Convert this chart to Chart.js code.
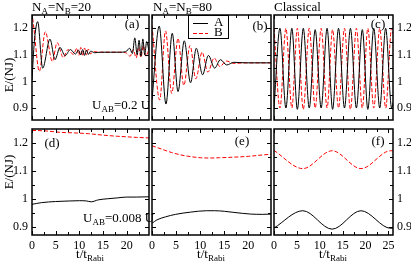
<!DOCTYPE html>
<html lang="en">
<head>
    <meta charset="UTF-8">
    <title>Energy of A and B</title>
    <script src="https://cdn.jsdelivr.net/npm/chart.js"></script>
    <style>
        body { margin: 0; background: #fff; }
        #wrap { position: relative; width: 411px; height: 264px; overflow: hidden; font-family: "Liberation Serif", serif; color: #000; }
        canvas { position: absolute; left: 0; top: 0; }
        .lbl { position: absolute; font-size: 13px; line-height: 13px; white-space: nowrap; }
        .lbl sub { font-size: 9px; vertical-align: -3px; line-height: 0; }
        .c { transform: translate(-50%, -50%); }
        .l { transform: translate(0, -50%); }
        .rot { transform: translate(-50%, -50%) rotate(-90deg); }
    </style>
</head>
<body>
<div id="wrap">
    <canvas id="pa" width="411" height="264"></canvas>
    <canvas id="pb" width="411" height="264"></canvas>
    <canvas id="pc" width="411" height="264"></canvas>
    <canvas id="pd" width="411" height="264"></canvas>
    <canvas id="pe" width="411" height="264"></canvas>
    <canvas id="pf" width="411" height="264"></canvas>

    <div class="lbl l" style="left:32px; top:6px;">N<sub>A</sub>=N<sub>B</sub>=20</div>
    <div class="lbl l" style="left:153px; top:6px;">N<sub>A</sub>=N<sub>B</sub>=80</div>
    <div class="lbl l" style="left:274px; top:6px;">Classical</div>

    <div class="lbl c" style="left:132px; top:23px;">(a)</div>
    <div class="lbl c" style="left:260px; top:25px;">(b)</div>
    <div class="lbl c" style="left:378px; top:23px;">(c)</div>
    <div class="lbl c" style="left:52px; top:142px;">(d)</div>
    <div class="lbl c" style="left:242px; top:140px;">(e)</div>
    <div class="lbl c" style="left:378px; top:140px;">(f)</div>

    <div class="lbl l" style="left:92px; top:104px;">U<sub>AB</sub>=0.2 U</div>
    <div class="lbl l" style="left:83px; top:217px;">U<sub>AB</sub>=0.008 U</div>

    <div class="lbl rot" style="left:8px; top:75px;">E/(NJ)</div>
    <div class="lbl rot" style="left:8px; top:172px;">E/(NJ)</div>

    <div class="lbl c" style="left:90px; top:253px;">t/t<sub>Rabi</sub></div>
    <div class="lbl c" style="left:211px; top:253px;">t/t<sub>Rabi</sub></div>
    <div class="lbl c" style="left:333px; top:253px;">t/t<sub>Rabi</sub></div>
</div>

<script>
    // tick marks and the ones that carry a label
    const xTickMarks = [0, 2.5, 5, 7.5, 10, 12.5, 15, 17.5, 20, 22.5, 25];
    const xTicks = [0, 5, 10, 15, 20, 25];
    const yTickMarks = [0.9, 0.95, 1, 1.05, 1.1, 1.15, 1.2];
    const yTicks = [0.9, 1, 1.1, 1.2];

    // (a) N_A = N_B = 20, U_AB = 0.2 U
    const aTimeA = [0, 0.5, 1.2, 2.25, 3.8, 4.85, 5.9, 7.0, 8.1, 9.2, 9.8, 10.3, 10.7, 11.1, 11.5, 11.9, 12.4, 13.2, 14.5, 16.5, 18.5, 19.8, 20.6, 21.2, 21.7, 22.2, 22.6, 23.0, 23.4, 23.8, 24.2, 24.7];
    const aEnergyA = [1.005, 1.15, 1.225, 1.05, 1.159, 1.082, 1.128, 1.097, 1.12, 1.103, 1.118, 1.1, 1.12, 1.098, 1.118, 1.102, 1.114, 1.108, 1.11, 1.11, 1.11, 1.112, 1.125, 1.105, 1.164, 1.1, 1.155, 1.095, 1.16, 1.1, 1.15, 1.115];
    const aTimeB = [0, 0.4, 1.55, 2.8, 4.3, 5.3, 6.6, 7.6, 8.7, 9.5, 9.9, 10.3, 10.7, 11.1, 11.5, 11.9, 12.3, 13.0, 14.5, 16.5, 18.5, 19.8, 20.7, 21.4, 22.0, 22.5, 23.0, 23.5, 24.0, 24.7];
    const aEnergyB = [1.26, 1.2, 1.038, 1.187, 1.075, 1.146, 1.09, 1.12, 1.102, 1.125, 1.098, 1.128, 1.096, 1.126, 1.1, 1.122, 1.104, 1.112, 1.11, 1.11, 1.11, 1.108, 1.095, 1.12, 1.088, 1.13, 1.09, 1.135, 1.095, 1.12];

    // (b) N_A = N_B = 80
    const bTimeA = [0, 1.5, 2.9, 4.2, 5.4, 6.7, 8.0, 9.2, 10.5, 11.7, 13.0, 14.2, 15.5, 17.0, 19.5, 22, 24.7];
    const bEnergyA = [0.93, 1.208, 0.915, 1.181, 0.962, 1.153, 0.995, 1.125, 1.025, 1.098, 1.05, 1.082, 1.062, 1.072, 1.07, 1.07, 1.07];
    const bTimeB = [0, 1.6, 2.8, 4.1, 5.4, 6.6, 7.9, 9.1, 10.4, 11.6, 12.9, 14.1, 15.4, 17.0, 19.5, 22, 24.7];
    const bEnergyB = [1.21, 0.93, 1.19, 0.955, 1.162, 0.985, 1.135, 1.01, 1.11, 1.035, 1.088, 1.056, 1.077, 1.068, 1.07, 1.07, 1.07];

    // (c) classical
    const cTime = [0, 1.3, 2.6, 3.9, 5.1, 6.4, 7.7, 9.0, 10.3, 11.6, 12.8, 14.1, 15.4, 16.7, 18.0, 19.3, 20.5, 21.8, 23.1, 24.4, 25.7, 26];
    const cEnergyA = [0.9, 1.2, 0.9, 1.2, 0.895, 1.2, 0.9, 1.195, 0.9, 1.2, 0.895, 1.2, 0.9, 1.2, 0.9, 1.195, 0.895, 1.2, 0.9, 1.2, 0.9, 0.92];
    const cEnergyB = [1.2, 0.9, 1.2, 0.9, 1.2, 0.895, 1.2, 0.9, 1.2, 0.9, 1.195, 0.9, 1.2, 0.895, 1.2, 0.9, 1.2, 0.9, 1.2, 0.9, 1.2, 1.18];

    // (d) N = 20, U_AB = 0.008 U
    const dTimeA = [0, 2, 5, 8, 10, 11.5, 12.5, 14, 16, 18, 20, 22, 24.7];
    const dEnergyA = [0.98, 0.986, 0.99, 0.992, 0.993, 0.992, 0.989, 0.996, 1.0, 1.003, 1.006, 1.006, 1.007];
    const dTimeB = [0, 3, 6, 9, 12, 15, 18, 20, 22, 24.7];
    const dEnergyB = [1.245, 1.243, 1.238, 1.236, 1.233, 1.228, 1.224, 1.222, 1.22, 1.218];

    // (e) N = 80
    const eTimeA = [0, 1, 2.8, 4.9, 8, 11.3, 13, 15, 17, 20.5, 23, 25];
    const eEnergyA = [0.912, 0.924, 0.935, 0.944, 0.952, 0.957, 0.957, 0.955, 0.951, 0.945, 0.944, 0.945];
    const eTimeB = [0, 2, 4, 6, 8, 10, 12, 14, 17, 20, 23, 25];
    const eEnergyB = [1.19, 1.178, 1.166, 1.157, 1.151, 1.147, 1.146, 1.147, 1.149, 1.152, 1.157, 1.16];

    // (f) classical
    const fTime = [0, 6.3, 12.7, 19.0, 25.5, 26];
    const fEnergyA = [0.895, 0.957, 0.891, 0.957, 0.894, 0.895];
    const fEnergyB = [1.173, 1.108, 1.172, 1.108, 1.172, 1.172];

    const W = 411, H = 264;
    const tickFont = { family: 'Liberation Serif', size: 12 };

    function near(v, step) {
        const r = v / step;
        return Math.abs(r - Math.round(r)) < 1e-6;
    }

    function points(ts, vs) {
        return ts.map((t, i) => ({ x: t, y: vs[i] }));
    }

    // frame plus small ticks pointing inwards on all four sides
    const innerTicks = {
        id: 'innerTicks',
        afterDraw(chart) {
            const { ctx, chartArea: a } = chart;
            const xs = chart.scales.x, ys = chart.scales.y;
            ctx.save();
            ctx.strokeStyle = '#000';
            ctx.lineWidth = 1;
            ctx.beginPath();
            xs.ticks.forEach(t => {
                const len = near(t.value, 5) ? 4 : 3;
                const x = Math.round(xs.getPixelForValue(t.value)) + 0.5;
                ctx.moveTo(x, a.bottom); ctx.lineTo(x, a.bottom - len);
                ctx.moveTo(x, a.top); ctx.lineTo(x, a.top + len);
            });
            ys.ticks.forEach(t => {
                const len = near(t.value, 0.1) ? 4 : 3;
                const y = Math.round(ys.getPixelForValue(t.value)) + 0.5;
                ctx.moveTo(a.left, y); ctx.lineTo(a.left + len, y);
                ctx.moveTo(a.right, y); ctx.lineTo(a.right - len, y);
            });
            ctx.stroke();
            ctx.lineWidth = 1.5;
            ctx.strokeRect(a.left, a.top, a.right - a.left, a.bottom - a.top);
            ctx.restore();
        }
    };

    // boxed legend inside panel (b)
    const boxLegend = {
        id: 'boxLegend',
        afterDraw(chart, args, opts) {
            if (!opts.show) return;
            const { ctx } = chart;
            const { x, y, w, h } = opts;
            ctx.save();
            ctx.fillStyle = '#fff';
            ctx.fillRect(x, y, w, h);
            ctx.strokeStyle = '#000';
            ctx.lineWidth = 1;
            ctx.strokeRect(x + 0.5, y + 0.5, w, h);
            ctx.font = '13px "Liberation Serif"';
            ctx.textBaseline = 'middle';
            chart.data.datasets.forEach((ds, i) => {
                const ly = y + 8 + i * 10;
                ctx.strokeStyle = ds.borderColor;
                ctx.setLineDash(ds.borderDash || []);
                ctx.beginPath();
                ctx.moveTo(x + 5, ly + 0.5);
                ctx.lineTo(x + 20, ly + 0.5);
                ctx.stroke();
                ctx.setLineDash([]);
                ctx.fillStyle = '#000';
                ctx.fillText(ds.label, x + 26, ly);
            });
            ctx.restore();
        }
    };

    const panels = [
        { id: 'pa', box: [32, 15, 149, 120], xMax: 24.7, yMin: 0.855, yMax: 1.25, xLab: false, yPos: 'left', yLab: true, A: [aTimeA, aEnergyA], B: [aTimeB, aEnergyB] },
        { id: 'pb', box: [152, 15, 271, 120], xMax: 24.7, yMin: 0.855, yMax: 1.25, xLab: false, yPos: 'left', yLab: false, A: [bTimeA, bEnergyA], B: [bTimeB, bEnergyB], legend: true },
        { id: 'pc', box: [274, 15, 393, 120], xMax: 26, yMin: 0.855, yMax: 1.25, xLab: false, yPos: 'right', yLab: true, A: [cTime, cEnergyA], B: [cTime, cEnergyB] },
        { id: 'pd', box: [32, 129, 149, 235], xMax: 24.7, yMin: 0.87, yMax: 1.25, xLab: true, yPos: 'left', yLab: true, A: [dTimeA, dEnergyA], B: [dTimeB, dEnergyB] },
        { id: 'pe', box: [152, 129, 271, 235], xMax: 24.7, yMin: 0.87, yMax: 1.25, xLab: true, yPos: 'left', yLab: false, A: [eTimeA, eEnergyA], B: [eTimeB, eEnergyB] },
        { id: 'pf', box: [274, 129, 393, 235], xMax: 26, yMin: 0.87, yMax: 1.25, xLab: true, yPos: 'right', yLab: true, A: [fTime, fEnergyA], B: [fTime, fEnergyB] }
    ];

    panels.forEach(p => {
        const [l, t, r, b] = p.box;
        // the axis boxes take up the margin where their labels go (labels are clipped to that box)
        const yW = p.yLab ? (p.yPos === 'left' ? l : W - r) : 0;
        const xH = p.xLab ? H - b : 0;
        const pad = {
            left: p.yPos === 'left' ? l - yW : l,
            right: p.yPos === 'right' ? W - r - yW : W - r,
            top: t,
            bottom: H - b - xH
        };
        new Chart(document.getElementById(p.id), {
            type: 'line',
            data: {
                datasets: [{
                    label: 'A',
                    data: points(p.A[0], p.A[1]),
                    borderColor: '#000000',
                    borderWidth: 1,
                    pointRadius: 0,
                    cubicInterpolationMode: 'monotone'
                }, {
                    label: 'B',
                    data: points(p.B[0], p.B[1]),
                    borderColor: '#ff0000',
                    borderWidth: 1,
                    borderDash: [4, 2],
                    pointRadius: 0,
                    cubicInterpolationMode: 'monotone'
                }]
            },
            options: {
                responsive: false,
                animation: false,
                events: [],
                layout: { padding: pad },
                plugins: {
                    legend: { display: false },
                    tooltip: { enabled: false },
                    boxLegend: { show: !!p.legend, x: 188, y: 15, w: 40, h: 23 }
                },
                scales: {
                    x: {
                        type: 'linear',
                        min: 0,
                        max: p.xMax,
                        afterFit: s => { s.height = xH; },
                        afterBuildTicks: s => { s.ticks = xTickMarks.filter(v => v <= s.max).map(v => ({ value: v })); },
                        grid: { display: false, drawTicks: false },
                        border: { display: false },
                        ticks: {
                            display: p.xLab,
                            autoSkip: false,
                            maxRotation: 0,
                            padding: 4,
                            color: '#000',
                            font: tickFont,
                            callback: v => xTicks.includes(v) ? String(v) : ''
                        }
                    },
                    y: {
                        position: p.yPos,
                        min: p.yMin,
                        max: p.yMax,
                        afterFit: s => { s.width = yW; },
                        afterBuildTicks: s => { s.ticks = yTickMarks.map(v => ({ value: v })); },
                        grid: { display: false, drawTicks: false },
                        border: { display: false },
                        ticks: {
                            display: p.yLab,
                            autoSkip: false,
                            padding: 4,
                            color: '#000',
                            font: tickFont,
                            callback: v => yTicks.includes(v) ? String(v) : ''
                        }
                    }
                }
            },
            plugins: [innerTicks, boxLegend]
        });
    });
</script>
</body>
</html>
